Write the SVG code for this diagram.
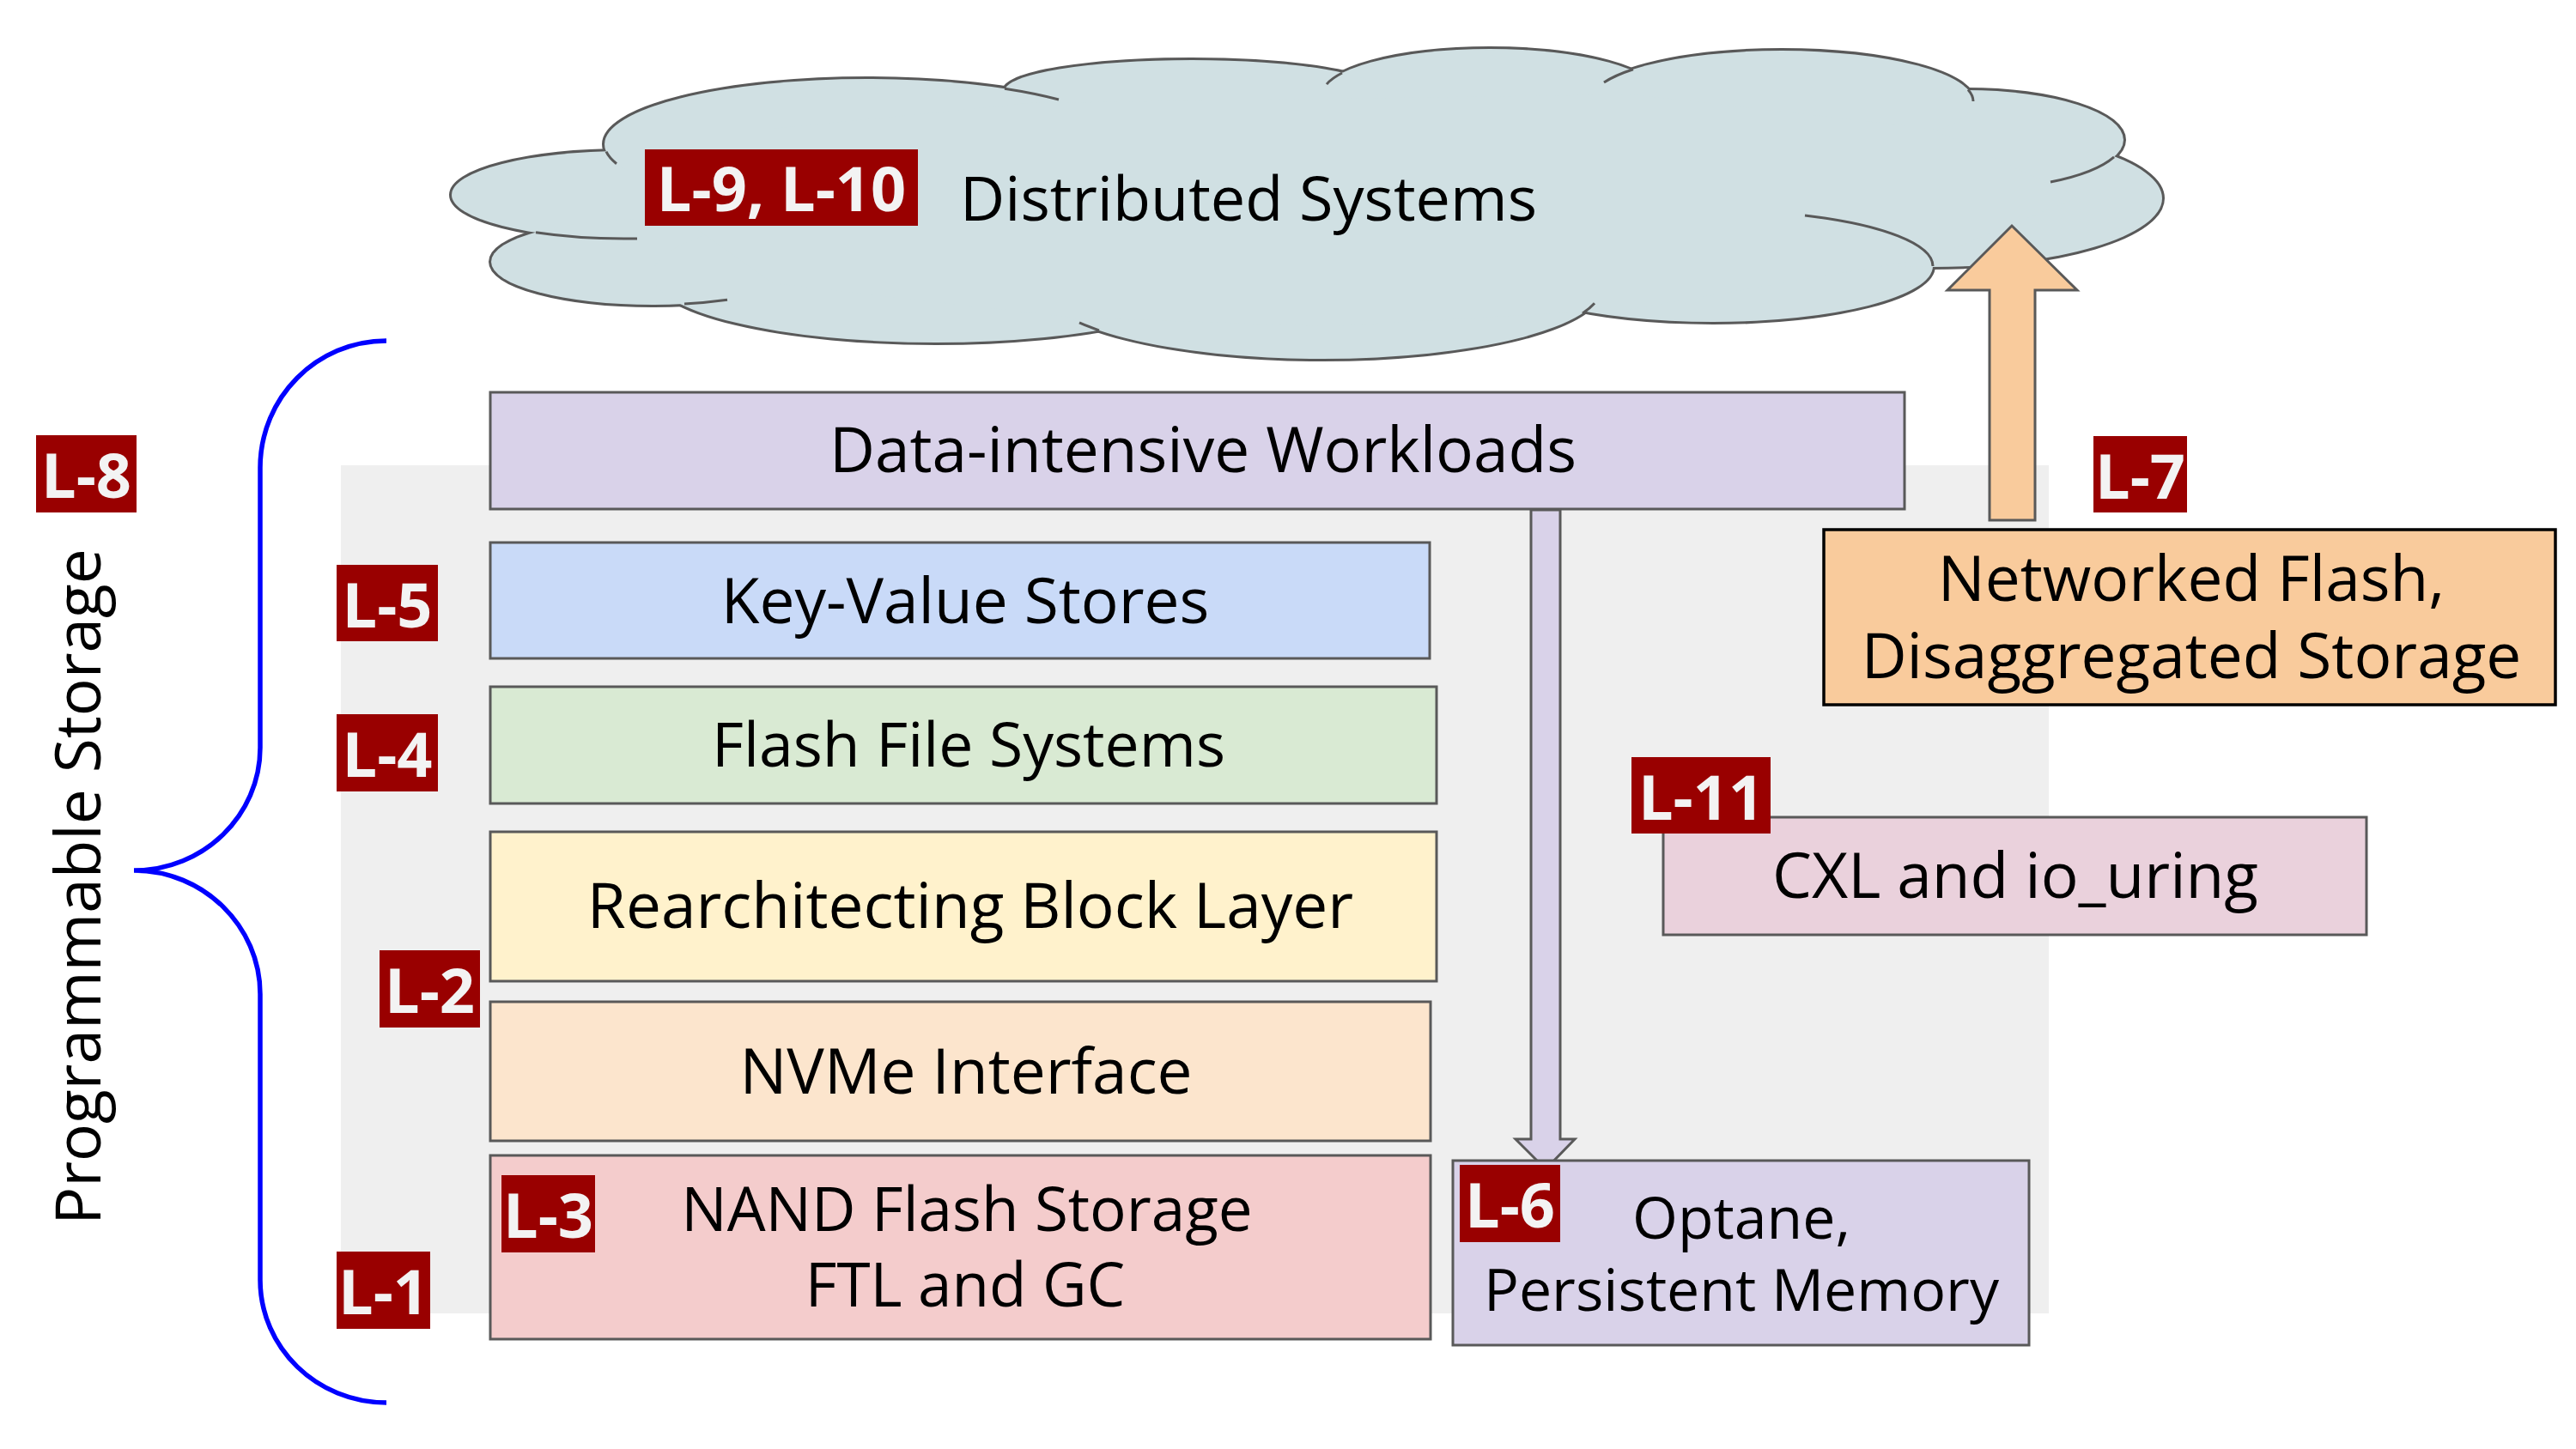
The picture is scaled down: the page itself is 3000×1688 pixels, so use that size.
<svg xmlns="http://www.w3.org/2000/svg" width="3000" height="1688" viewBox="0 0 3000 1688">
<style>
.t{font-family:"Open Sans","Liberation Sans",sans-serif;font-size:73px;fill:#000;text-anchor:middle}
.lb{fill:#990000}
.lt{font-family:"Open Sans","Liberation Sans",sans-serif;font-size:72px;font-weight:bold;fill:#f3f3f3;text-anchor:middle}
.box{stroke:#595959;stroke-width:3}
.cs{fill:#d0e0e3;stroke:#595959;stroke-width:6}
.cf{fill:#d0e0e3}
.seam{fill:none;stroke:#595959;stroke-width:3}
</style>
<rect width="3000" height="1688" fill="#ffffff"/>
<rect id="background" x="397" y="542" width="1989" height="988" fill="#efefef"/>
<g id="cloud">
<g>
<ellipse class="cs" cx="727" cy="227" rx="201" ry="51"/>
<ellipse class="cs" cx="1010" cy="168" rx="306" ry="76"/>
<ellipse class="cs" cx="760" cy="305" rx="188" ry="50"/>
<ellipse class="cs" cx="1090" cy="320" rx="330" ry="79"/>
<ellipse class="cs" cx="1540" cy="335" rx="325" ry="83"/>
<ellipse class="cs" cx="1995" cy="310" rx="256" ry="65"/>
<ellipse class="cs" cx="2250" cy="231" rx="268" ry="80"/>
<ellipse class="cs" cx="2290" cy="163" rx="183" ry="58"/>
<ellipse class="cs" cx="2075" cy="118" rx="223" ry="59"/>
<ellipse class="cs" cx="1735" cy="110" rx="195" ry="53"/>
<ellipse class="cs" cx="1388" cy="106" rx="218" ry="36"/>
</g>
<g>
<ellipse class="cf" cx="727" cy="227" rx="201" ry="51"/>
<ellipse class="cf" cx="1010" cy="168" rx="306" ry="76"/>
<ellipse class="cf" cx="760" cy="305" rx="188" ry="50"/>
<ellipse class="cf" cx="1090" cy="320" rx="330" ry="79"/>
<ellipse class="cf" cx="1540" cy="335" rx="325" ry="83"/>
<ellipse class="cf" cx="1995" cy="310" rx="256" ry="65"/>
<ellipse class="cf" cx="2250" cy="231" rx="268" ry="80"/>
<ellipse class="cf" cx="2290" cy="163" rx="183" ry="58"/>
<ellipse class="cf" cx="2075" cy="118" rx="223" ry="59"/>
<ellipse class="cf" cx="1735" cy="110" rx="195" ry="53"/>
<ellipse class="cf" cx="1388" cy="106" rx="218" ry="36"/>
<polygon class="cf" points="760,230 900,150 1200,120 1550,115 1900,110 2250,150 2420,230 2250,300 1900,360 1550,380 1250,370 900,330"/>
</g>
<path class="seam" d="M624,270.8 A201,51 0 0 0 742,277.9"/>
<path class="seam" d="M706,176.7 A306,76 0 0 0 718,190.7"/>
<path class="seam" d="M1170,103.2 A306,76 0 0 1 1233,116"/>
<path class="seam" d="M797,354 A188,50 0 0 0 847,349.3"/>
<path class="seam" d="M1257,375.8 A325,83 0 0 0 1280,384.8"/>
<path class="seam" d="M1843,365 A325,83 0 0 0 1857,353.3"/>
<path class="seam" d="M2102,251 A256,65 0 0 1 2251,310"/>
<path class="seam" d="M2462,182.8 A183,58 0 0 1 2388,212"/>
<path class="seam" d="M1868,96.1 A223,59 0 0 1 1902,80.8"/>
<path class="seam" d="M2292,104.4 A223,59 0 0 1 2298,118"/>
<path class="seam" d="M1545,98.1 A195,53 0 0 1 1563,85"/>
<text class="t" x="1118" y="257" style="text-anchor:start;font-size:72px">Distributed Systems</text>
</g>
<g id="brace">
<path d="M450,397 C369,397 303,463 303,545 L303,871 C303,950 237,1014 156,1014 C237,1014 303,1079 303,1158 L303,1491 C303,1570 369,1634 450,1634" fill="none" stroke="#0000ff" stroke-width="5.5"/>
<text class="t" transform="translate(117,1033) rotate(-90)">Programmable Storage</text>
</g>
<g id="data-intensive">
<rect class="box" x="571" y="457" width="1647" height="136" fill="#d9d2e9"/>
<text class="t" x="1401" y="550">Data-intensive Workloads</text>
</g>
<g id="kv-stores">
<rect class="box" x="571" y="632" width="1094" height="135" fill="#c9daf8"/>
<text class="t" x="1124" y="726">Key-Value Stores</text>
</g>
<g id="flash-fs">
<rect class="box" x="571" y="800" width="1102" height="136" fill="#d9ead3"/>
<text class="t" x="1128" y="893" style="font-size:71.5px">Flash File Systems</text>
</g>
<g id="block-layer">
<rect class="box" x="571" y="969" width="1102" height="174" fill="#fff2cc"/>
<text class="t" x="1130" y="1081">Rearchitecting Block Layer</text>
</g>
<g id="nvme">
<rect class="box" x="571" y="1167" width="1095" height="162" fill="#fce5cd"/>
<text class="t" x="1125" y="1274">NVMe Interface</text>
</g>
<g id="nand">
<rect class="box" x="571" y="1346" width="1095" height="214" fill="#f4cccc"/>
<text class="t" style="font-size:71px"><tspan x="1126" y="1434">NAND Flash Storage</tspan><tspan x="1124" y="1522">FTL and GC</tspan></text>
</g>
<g id="cxl">
<rect class="box" x="1937" y="952" width="819" height="137" fill="#ead1dc"/>
<text class="t" x="2347" y="1046">CXL and io_uring</text>
</g>
<g id="networked">
<rect x="2124" y="617" width="852" height="204" fill="#f9cb9c" stroke="#000000" stroke-width="3.5"/>
<text class="t"><tspan x="2552" y="700">Networked Flash,</tspan><tspan x="2552" y="790">Disaggregated Storage</tspan></text>
</g>
<g id="connectors">
<polygon points="1783,594 1783,1327 1765,1327 1800,1362 1834,1327 1817,1327 1817,594" fill="#d9d2e9" stroke="#595959" stroke-width="3" stroke-linejoin="miter"/>
<polygon points="2317,606 2317,338 2268,338 2343,263 2419,338 2370,338 2370,606" fill="#f9cb9c" stroke="#595959" stroke-width="3"/>
</g>
<g id="optane">
<rect class="box" x="1692" y="1352" width="671" height="215" fill="#d9d2e9"/>
<text class="t" style="font-size:68px"><tspan x="2028" y="1443">Optane,</tspan><tspan x="2028" y="1527">Persistent Memory</tspan></text>
</g>
<g id="labels">
<g id="label-l8"><rect class="lb" x="42" y="507" width="117" height="90"/><text class="lt" x="100.5" y="580">L-8</text></g>
<g id="label-l5"><rect class="lb" x="392" y="658" width="118" height="89"/><text class="lt" x="451" y="731">L-5</text></g>
<g id="label-l4"><rect class="lb" x="392" y="832" width="118" height="90"/><text class="lt" x="451" y="905">L-4</text></g>
<g id="label-l2"><rect class="lb" x="442" y="1107" width="117" height="90"/><text class="lt" x="500.5" y="1180">L-2</text></g>
<g id="label-l3"><rect class="lb" x="584" y="1369" width="109" height="90"/><text class="lt" x="638.5" y="1442">L-3</text></g>
<g id="label-l1"><rect class="lb" x="392" y="1458" width="109" height="90"/><text class="lt" x="446.5" y="1531">L-1</text></g>
<g id="label-l6"><rect class="lb" x="1700" y="1357" width="117" height="90"/><text class="lt" x="1758.5" y="1430">L-6</text></g>
<g id="label-l7"><rect class="lb" x="2438" y="508" width="109" height="89"/><text class="lt" x="2492.5" y="581">L-7</text></g>
<g id="label-l11"><rect class="lb" x="1900" y="882" width="162" height="89"/><text class="lt" x="1981" y="955">L-11</text></g>
<g id="label-l9-l10"><rect class="lb" x="751" y="174" width="318" height="89"/><text class="lt" x="910" y="246">L-9, L-10</text></g>
</g>
</svg>
